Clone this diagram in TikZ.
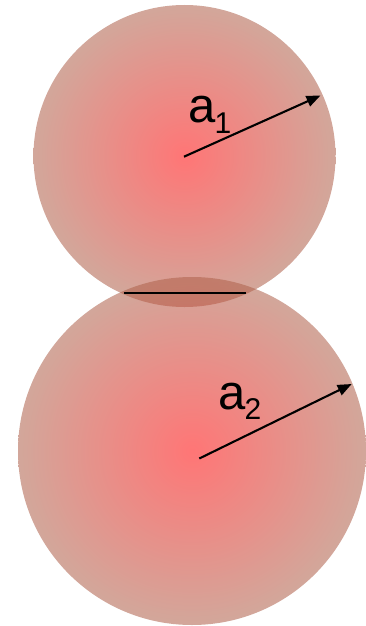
\documentclass[tikz,border=0pt]{standalone}
\usepackage{fontspec}
\setmainfont{Liberation Sans}
\usetikzlibrary{arrows.meta}
\definecolor{cin}{RGB}{255,10,10}
\definecolor{cout}{RGB}{175,98,76}
\pgfdeclareradialshading{ballgrad}{\pgfpoint{0bp}{0bp}}{color(0bp)=(cin); color(25bp)=(cout); color(50bp)=(cout)}
\tikzset{
  ballfill/.style={shading=ballgrad, fill opacity=0.56},
  radarrow/.style={line width=2.1pt, -{Triangle[length=14pt,width=11pt]}},
  biglabel/.style={anchor=base west, inner sep=0pt, font=\fontsize{49}{49}\selectfont}
}
\newcommand{\subdigit}[1]{\kern-1pt\raisebox{-10.6pt}{\fontsize{30}{30}\selectfont #1}}
\begin{document}
\begin{tikzpicture}[x=1pt,y=-1pt]
\useasboundingbox (0,0) rectangle (366,626);
% circles
\shade[ballfill] (184.5,156) circle[radius=151];
\shade[ballfill] (192,451) circle[radius=174];
% contact line
\coordinate (p1) at (124,292.7);
\coordinate (p2) at (246,292.7);
\draw[line width=2.1pt] (p1) -- (p2);
% radii
\coordinate (c1) at (184,156.7);
\coordinate (t1) at (320.5,95.5);
\coordinate (c2) at (199.3,458.5);
\coordinate (t2) at (351.7,384);
\draw[radarrow] (c1) -- (t1);
\draw[radarrow] (c2) -- (t2);
% labels
\node[biglabel] (l1) at (188.2,122.7) {a\subdigit{1}};
\node[biglabel] (l2) at (218.2,409.3) {a\subdigit{2}};
\end{tikzpicture}
\end{document}
